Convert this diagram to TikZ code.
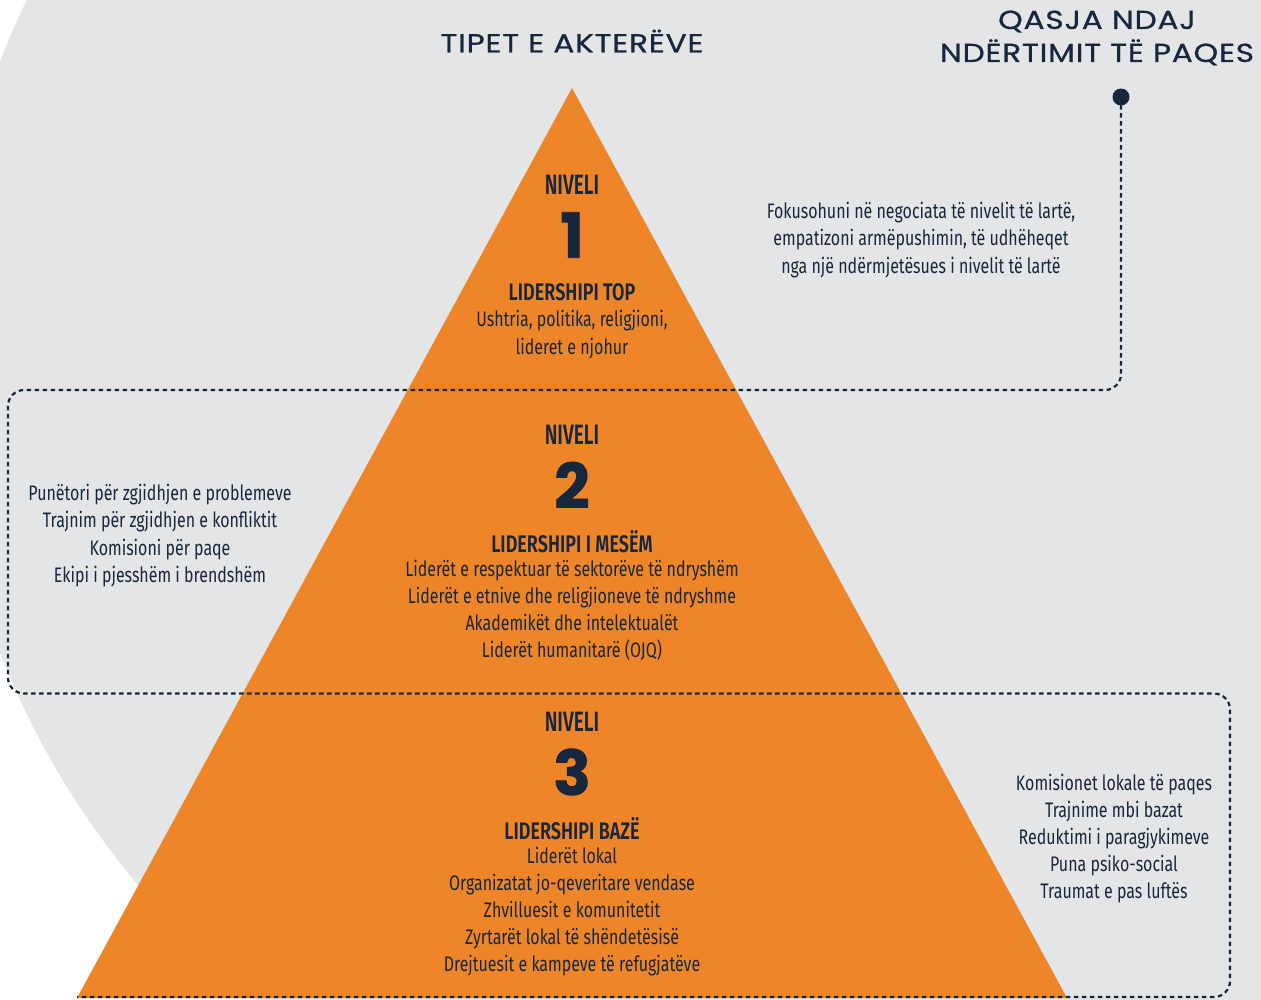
\documentclass[tikz,border=0pt]{standalone}
\usepackage{fontspec}
\setmainfont{Fira Sans}
\newfontfamily\condf[FakeStretch=0.76]{Fira Sans}
\newfontfamily\condbf[FakeStretch=0.75]{Fira Sans SemiBold}
\newfontfamily\lvlf[FakeStretch=0.68]{Fira Sans SemiBold}
\newfontfamily\titlef[FakeStretch=1.2,LetterSpace=3,FakeBold=0.8]{Poppins}
\newfontfamily\numf[FakeBold=1.2]{Poppins}
\definecolor{pyorange}{RGB}{239,133,41}
\definecolor{bggrey}{RGB}{228,229,231}
\definecolor{navy}{RGB}{23,39,61}
\tikzset{
  body/.style={text=navy, align=center, inner sep=0pt, font=\condf\fontsize{21}{27.2}\selectfont},
  lvl/.style={text=navy, inner sep=0pt, font=\lvlf\fontsize{28}{30}\selectfont},
  lead/.style={text=navy, inner sep=0pt, font=\condbf\fontsize{24}{25}\selectfont},
  num/.style={text=navy, inner sep=0pt, font=\numf\bfseries\fontsize{62}{62}\selectfont},
  ttl/.style={text=navy, align=center, inner sep=0pt, font=\titlef\fontsize{26}{33}\selectfont},
  dotline/.style={navy, line width=2.2pt, dash pattern=on 4.5pt off 3.5pt, rounded corners=16pt}
}
\begin{document}
\begin{tikzpicture}[x=1pt,y=-1pt]
\useasboundingbox (0,0) rectangle (1261,999);
\clip (0,0) rectangle (1261,999);
\fill[white] (0,0) rectangle (1261,999);
\fill[bggrey] (763,357) circle (818);
\fill[pyorange] (572,88) -- (1067,998) -- (77,998) -- cycle;

% titles
\node[ttl] (t1) at (572,41) {TIPET E AKTERËVE};
\node[ttl] (t2) at (1097,38) {QASJA NDAJ\\NDËRTIMIT TË PAQES};

% dotted connector
\node[circle, fill=navy, inner sep=0pt, minimum size=17pt] (dot) at (1121,97) {};
\coordinate (c1) at (1121,390);
\coordinate (c2) at (8,390);
\coordinate (c3) at (8,693.5);
\coordinate (c4) at (1230,693.5);
\coordinate (c5) at (1230,997);
\coordinate (c6) at (77,997);
\draw[dotline] (dot.center) -- (c1) -- (c2) -- (c3) -- (c4) -- (c5) -- (c6);

% level 1
\node[lvl] (n1) at (572,185) {NIVELI};
\node[num] (d1) at (572,235) {1};
\node[lead] (l1) at (572,292) {LIDERSHIPI TOP};
\node[body] (b1) at (572,334.5) {Ushtria, politika, religjioni,\\lideret e njohur};

% level 2
\node[lvl] (n2) at (572,435) {NIVELI};
\node[num] (d2) at (572,485) {2};
\node[lead] (l2) at (572,542) {LIDERSHIPI I MESËM};
\node[body] (b2) at (572,610.5) {Liderët e respektuar të sektorëve të ndryshëm\\Liderët e etnive dhe religjioneve të ndryshme\\Akademikët dhe intelektualët\\Liderët humanitarë (OJQ)};

% level 3
\node[lvl] (n3) at (572,722) {NIVELI};
\node[num] (d3) at (572,772) {3};
\node[lead] (l3) at (572,829) {LIDERSHIPI BAZË};
\node[body] (b3) at (572,911.5) {Liderët lokal\\Organizatat jo-qeveritare vendase\\Zhvilluesit e komunitetit\\Zyrtarët lokal të shëndetësisë\\Drejtuesit e kampeve të refugjatëve};

% side texts
\node[body] (s1) at (921,240) {Fokusohuni në negociata të nivelit të lartë,\\empatizoni armëpushimin, të udhëheqet\\nga një ndërmjetësues i nivelit të lartë};
\node[body] (s2) at (160,535.5) {Punëtori për zgjidhjen e problemeve\\Trajnim për zgjidhjen e konfliktit\\Komisioni për paqe\\Ekipi i pjesshëm i brendshëm};
\node[body] (s3) at (1114,838.5) {Komisionet lokale të paqes\\Trajnime mbi bazat\\Reduktimi i paragjykimeve\\Puna psiko-social\\Traumat e pas luftës};
\end{tikzpicture}
\end{document}
